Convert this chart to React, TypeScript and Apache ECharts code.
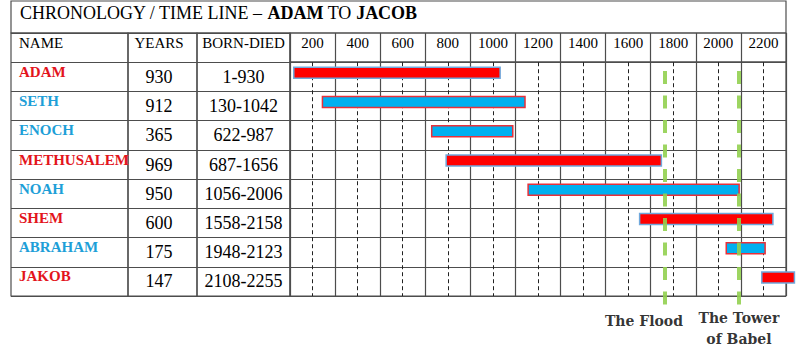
import React, { useEffect, useRef } from 'react';
import * as echarts from 'echarts';

// ---- data ----
const names = ['ADAM', 'SETH', 'ENOCH', 'METHUSALEM', 'NOAH', 'SHEM', 'ABRAHAM', 'JAKOB'];
const years = ['930', '912', '365', '969', '950', '600', '175', '147'];
const born = [1, 130, 622, 687, 1056, 1558, 1948, 2108];
const died = [930, 1042, 987, 1656, 2006, 2158, 2123, 2255];
const rowColor = ['red', 'blue', 'blue', 'red', 'blue', 'red', 'blue', 'red'];
const headers = ['NAME', 'YEARS', 'BORN-DIED'];
const timeLabels = ['200', '400', '600', '800', '1000', '1200', '1400', '1600', '1800', '2000', '2200'];
const eventNames = ['The Flood', 'The Tower\nof Babel'];
const eventYears = [1672, 2005];
const titleParts = ['CHRONOLOGY / TIME LINE – ', 'ADAM', ' TO ', 'JACOB'];

const SERIF = "'Liberation Serif', 'Times New Roman', serif";
const RED = '#e3141c';
const BLUE = '#1e9fd8';
const LINE = '#4d4d4d';

const bornDied = born.map((b, i) => `${b}-${died[i]}`);

export default function App() {
  const ref = useRef<HTMLDivElement>(null);
  useEffect(() => {
    document.body.style.margin = '0';
    const chart = echarts.init(ref.current!, null, { renderer: 'svg' });
    const rowsTop = 33;
    const rowsBottom = 296;
    const rowH = (rowsBottom - rowsTop) / 9;
    const gridBase = { show: true, borderColor: LINE, borderWidth: 1.2, backgroundColor: 'transparent', containLabel: false };
    const hiddenVal = (gridIndex: number, extra: any = {}) => ({ type: 'value', gridIndex, show: false, min: 0, max: 1, ...extra });
    const splitLine = { show: true, interval: 0, lineStyle: { color: LINE, width: 1.2 } };
    const headRich = { fontFamily: SERIF, fontSize: 15, color: '#000', padding: [0, 0, 10, 0] };
    const nameRich = (color: string) => ({
      fontFamily: SERIF, fontSize: 15, fontWeight: 'bold', color, padding: [0, 0, 10, 0],
      width: 108, overflow: 'truncate', ellipsis: '',
    });

    const option: any = {
      animation: false,
      backgroundColor: '#fff',
      graphic: [
        { type: 'rect', shape: { x: 11, y: 1, width: 775, height: 32 }, style: { fill: 'none', stroke: LINE, lineWidth: 1.2 } },
        {
          type: 'text', x: 20, y: 13,
          style: {
            text: `{n|${titleParts[0]}}{b|${titleParts[1]}}{n|${titleParts[2]}}{b|${titleParts[3]}}`,
            verticalAlign: 'middle',
            rich: {
              n: { fontFamily: SERIF, fontSize: 18, color: '#000' },
              b: { fontFamily: SERIF, fontSize: 18, fontWeight: 'bold', color: '#000' },
            },
          },
        },
      ],
      grid: [
        { ...gridBase, left: 11, top: rowsTop, width: 117, height: rowsBottom - rowsTop },
        { ...gridBase, left: 128, top: rowsTop, width: 69, height: rowsBottom - rowsTop },
        { ...gridBase, left: 197, top: rowsTop, width: 93, height: rowsBottom - rowsTop },
        { ...gridBase, left: 290, top: rowsTop, width: 496, height: rowH },
        { ...gridBase, left: 290, top: rowsTop + rowH, width: 496, height: rowsBottom - rowsTop - rowH },
        { show: false, left: 290, top: 71, width: 496, height: 234 },
      ],
      xAxis: [
        hiddenVal(0),
        hiddenVal(1),
        hiddenVal(2),
        {
          type: 'category', gridIndex: 3, data: timeLabels, position: 'top',
          axisLine: { show: false }, axisTick: { show: false },
          axisLabel: { margin: -10, verticalAlign: 'middle', fontFamily: SERIF, fontSize: 15, color: '#000', interval: 0 },
          splitLine,
        },
        {
          type: 'value', gridIndex: 4, min: 0, max: 11, interval: 1,
          axisLine: { show: false }, axisTick: { show: false }, axisLabel: { show: false },
          splitLine: { show: true, lineStyle: { color: LINE, width: 1.2 } },
          minorTick: { show: false, splitNumber: 2 },
          minorSplitLine: { show: true, lineStyle: { color: '#222', width: 1, type: [4, 3] } },
        },
        { type: 'value', gridIndex: 4, show: false, min: -16, max: 2217 },
        { type: 'value', gridIndex: 5, show: false, min: -16, max: 2217 },
      ],
      yAxis: [
        {
          type: 'category', gridIndex: 0, inverse: true, data: [headers[0], ...names], position: 'left',
          axisLine: { show: false }, axisTick: { show: false }, splitLine,
          axisLabel: {
            align: 'left', margin: -8, interval: 0,
            formatter: (v: string, i: number) => (i === 0 ? `{h|${v}}` : rowColor[i - 1] === 'red' ? `{r|${v}}` : `{b|${v}}`),
            rich: { h: headRich, r: nameRich(RED), b: nameRich(BLUE) },
          },
        },
        {
          type: 'category', gridIndex: 1, inverse: true, data: [headers[1], ...years], position: 'left',
          axisLine: { show: false }, axisTick: { show: false }, splitLine,
          axisLabel: {
            align: 'center', margin: -31, interval: 0,
            formatter: (v: string, i: number) => (i === 0 ? `{h|${v}}` : `{v|${v}}`),
            rich: { h: headRich, v: { fontFamily: SERIF, fontSize: 18, color: '#000' } },
          },
        },
        {
          type: 'category', gridIndex: 2, inverse: true, data: [headers[2], ...bornDied], position: 'left',
          axisLine: { show: false }, axisTick: { show: false }, splitLine,
          axisLabel: {
            align: 'center', margin: -46.5, interval: 0,
            formatter: (v: string, i: number) => (i === 0 ? `{h|${v}}` : `{v|${v}}`),
            rich: { h: headRich, v: { fontFamily: SERIF, fontSize: 18, color: '#000' } },
          },
        },
        hiddenVal(3),
        {
          type: 'category', gridIndex: 4, inverse: true, data: names,
          axisLine: { show: false }, axisTick: { show: false }, axisLabel: { show: false }, splitLine,
        },
        hiddenVal(5, { inverse: true }),
      ],
      series: [
        {
          type: 'custom', xAxisIndex: 5, yAxisIndex: 4, clip: false,
          encode: { x: [0, 1], y: 2 },
          data: names.map((_, i) => [born[i], died[i], i]),
          renderItem: (_p: any, api: any) => {
            const i = api.value(2);
            const s = api.coord([api.value(0), i]);
            const e = api.coord([api.value(1), i]);
            const h = 11;
            const isRed = rowColor[i] === 'red';
            return {
              type: 'rect',
              shape: { x: s[0], y: s[1] - h / 2 - 4, width: e[0] - s[0], height: h },
              style: { fill: isRed ? '#ff0000' : '#00b0f0', stroke: isRed ? '#6fa8dc' : '#e8303a', lineWidth: 1.5 },
            };
          },
        },
        {
          type: 'line', xAxisIndex: 6, yAxisIndex: 5, data: [],
          markLine: {
            silent: true, symbol: ['none', 'none'],
            lineStyle: { color: '#92d050', width: 4, type: [13, 11.5], opacity: 0.9 },
            label: {
              show: true, position: 'end', distance: 2,
              fontFamily: "'DejaVu Serif', serif", fontWeight: 'bold', fontSize: 14, color: '#1a1a1a', lineHeight: 21,
            },
            data: eventYears.map((y, i) => ({
              xAxis: y,
              label: { formatter: eventNames[i], offset: i === 0 ? [-21, 3] : [0, 0] },
            })),
          },
        },
      ],
    };
    chart.setOption(option);
    return () => chart.dispose();
  }, []);
  return <div ref={ref} style={{ width: 800, height: 351, position: 'absolute', left: 0, top: 0 }} />;
}
